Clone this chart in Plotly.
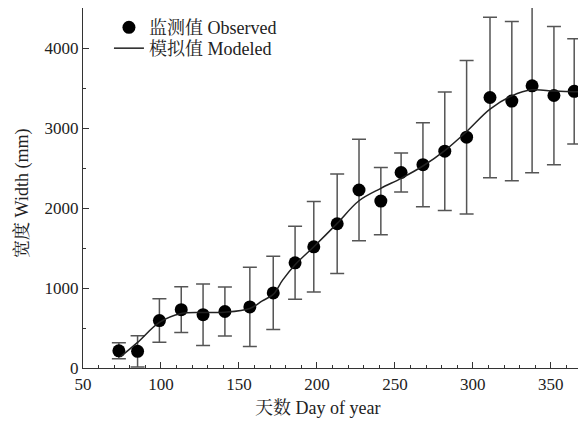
import plotly.graph_objects as go

# Observed data
obs_day = [73, 85, 99, 113, 127, 141, 157, 172, 186, 198, 213, 227, 241, 254, 268, 282, 296, 311, 325, 338, 352, 365]
obs_width = [215, 209, 593, 729, 666, 706, 764, 939, 1315, 1515, 1803, 2225, 2087, 2444, 2541, 2710, 2885, 3381, 3336, 3527, 3406, 3458]
obs_err = [100, 195, 272, 286, 385, 307, 495, 459, 457, 565, 622, 634, 420, 244, 524, 741, 960, 1004, 996, 1085, 864, 658]

# Modeled curve
mod_day = [74, 85, 99, 113, 127, 141, 157, 165, 172, 178, 186, 198, 213, 227, 241, 254, 268, 282, 296, 311, 325, 338, 352, 365, 368]
mod_width = [140, 320, 570, 681, 694, 697, 744, 840, 920, 1098, 1290, 1515, 1808, 2091, 2246, 2371, 2525, 2717, 2955, 3235, 3402, 3477, 3461, 3452, 3452]

x_title = "天数 Day of year"
y_title = "宽度 Width (mm)"

font_family = "Liberation Serif, Times New Roman, Noto Serif CJK SC, Noto Sans CJK SC, serif"
axis_col = "#333333"
text_col = "#222222"

fig = go.Figure()
fig.add_trace(go.Scatter(
    x=obs_day, y=obs_width, mode="markers", name="监测值 Observed",
    marker=dict(color="black", size=13),
    error_y=dict(type="data", array=obs_err, visible=True, color="#555555", thickness=1.5, width=7),
    legend="legend",
))
fig.add_trace(go.Scatter(
    x=mod_day, y=mod_width, mode="lines", name="模拟值 Modeled",
    line=dict(color="#222222", width=1.5, shape="spline", smoothing=1.0),
    legend="legend2",
))

leg_common = dict(xanchor="left", yanchor="top", bgcolor="rgba(0,0,0,0)",
                  font=dict(size=18, color=text_col), itemwidth=30)

fig.update_layout(
    width=578, height=413,
    margin=dict(l=75, r=4, t=0, b=53),
    paper_bgcolor="white", plot_bgcolor="white",
    font=dict(family=font_family, size=16, color=text_col),
    showlegend=True,
    legend=dict(x=0.052, y=0.997, **leg_common),
    legend2=dict(x=0.052, y=0.939, **leg_common),
    xaxis=dict(range=[50, 370], tickvals=[50, 100, 150, 200, 250, 300, 350],
               ticks="inside", ticklen=6, tickwidth=1.2, tickcolor=axis_col,
               showline=True, linecolor=axis_col, linewidth=1.3, mirror=True,
               showgrid=False, zeroline=False, automargin=False,
               tickfont=dict(size=17),
               minor=dict(dtick=10, tick0=50, ticks="inside", ticklen=3, tickcolor=axis_col, showgrid=False)),
    yaxis=dict(range=[0, 4500], tickvals=[0, 1000, 2000, 3000, 4000],
               ticks="inside", ticklen=6, tickwidth=1.2, tickcolor=axis_col,
               showline=True, linecolor=axis_col, linewidth=1.3, mirror=True,
               showgrid=False, zeroline=False, automargin=False,
               tickfont=dict(size=17),
               minor=dict(dtick=500, tick0=0, ticks="inside", ticklen=3, tickcolor=axis_col, showgrid=False)),
    annotations=[
        dict(text=x_title, xref="paper", yref="paper", x=0.4706, y=-0.112,
             xanchor="center", yanchor="middle", showarrow=False,
             font=dict(size=18, color=text_col)),
        dict(text=y_title, xref="paper", yref="paper", x=-0.12, y=0.484,
             xanchor="center", yanchor="middle", showarrow=False, textangle=-90,
             font=dict(size=18, color=text_col)),
    ],
)

fig.write_html("out.html")
